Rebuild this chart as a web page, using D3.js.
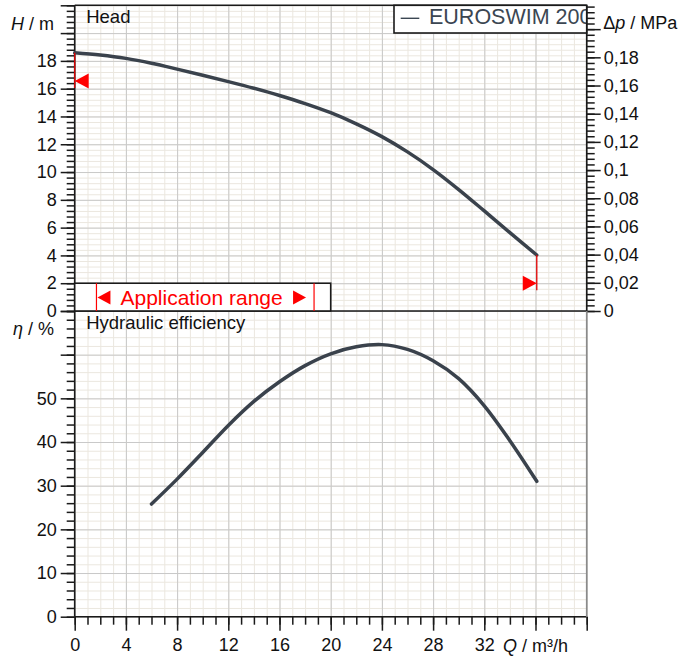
<!DOCTYPE html>
<html>
<head>
<meta charset="utf-8">
<script src="https://cdn.jsdelivr.net/npm/d3@7"></script>
<style>
body { margin: 0; background: #fff; }
svg text { font-family: "Liberation Sans", Arial, sans-serif; }
</style>
</head>
<body>
<div id="chart"></div>
<script>
// head curve: flow Q (m3/h) and head H (m)
var headQ = [0, 2, 4, 6, 8, 10, 12, 14, 16, 18, 20, 22, 24, 26, 28, 30, 32, 34, 36.1];
var headH = [18.58, 18.42, 18.18, 17.83, 17.41, 16.97, 16.51, 16.03, 15.51, 14.93, 14.27, 13.47, 12.55, 11.45, 10.18, 8.74, 7.2, 5.64, 4.03];

// hydraulic efficiency curve: flow Q (m3/h) and eta (%)
var effQ = [6, 8, 10, 12, 14, 16, 18, 20, 22, 24, 26, 28, 30, 32, 34, 36.1];
var effEta = [25.8, 31.5, 37.6, 43.8, 49.3, 53.8, 57.5, 60.2, 61.8, 62.3, 61.2, 58.6, 54.5, 48.3, 40.3, 31.0];

// tick labels
var qTicks = [0, 4, 8, 12, 16, 20, 24, 28, 32];
var hTicks = [0, 2, 4, 6, 8, 10, 12, 14, 16, 18];
var dpTicks = [0, 0.02, 0.04, 0.06, 0.08, 0.1, 0.12, 0.14, 0.16, 0.18];
var etaTicks = [0, 10, 20, 30, 40, 50];

// operating limit markers and application range
var limitQ = [0, 36.1];
var limitH = [16.55, 2];
var appRangeQ = [1.7, 18.7];
var appBoxQ = [0, 20];
var appBoxH = [0, 2];
var legendLabel = 'EUROSWIM 200';

var rhoG = 0.00986; // MPa per m
var curveColor = '#3a424c';
var fontFam = '"Liberation Sans", Arial, sans-serif';

var dim = {l: 74.7, r: 586.7, t: 5.3, mid: 311, b: 616.7};

var svg = d3.select('#chart').append('svg')
    .attr('width', 694)
    .attr('height', 656);

var x = d3.scaleLinear().domain([0, 40]).range([dim.l, dim.r]);
var yH = d3.scaleLinear().domain([0, 22]).range([dim.mid, dim.t]);
var yP = d3.scaleLinear().domain([0, 22 * rhoG]).range([dim.mid, dim.t]);
var yE = d3.scaleLinear().domain([0, 70]).range([dim.b, dim.mid]);

var qMinor = d3.range(0, 41);
var qMajor = qMinor.filter(function(d) { return d % 4 === 0; });
var hMinor = d3.range(0, 56).map(function(i) { return i * 0.4; });
var hMajor = d3.range(0, 12).map(function(i) { return i * 2; });
var eMinor = d3.range(0, 36).map(function(i) { return i * 2; });
var eMajor = d3.range(0, 8).map(function(i) { return i * 10; });
var pMinor = d3.range(0, 55).map(function(i) { return i * 0.004; });
var pMajor = d3.range(0, 11).map(function(i) { return i * 0.02; });

// grid lines drawn with axes
function grid(g, axis, color) {
    g.call(axis.tickFormat(''));
    g.select('.domain').remove();
    g.selectAll('.tick line').attr('stroke', color).attr('stroke-width', 1);
}

var gridG = svg.append('g');
[[dim.t, dim.mid], [dim.mid, dim.b]].forEach(function(p) {
    gridG.append('g').attr('transform', 'translate(0,' + p[1] + ')')
        .call(grid, d3.axisBottom(x).tickValues(qMinor).tickSize(-(p[1] - p[0])), '#ebe7df');
});
gridG.append('g').attr('transform', 'translate(' + dim.l + ',0)')
    .call(grid, d3.axisLeft(yH).tickValues(hMinor).tickSize(-(dim.r - dim.l)), '#ebe7df');
gridG.append('g').attr('transform', 'translate(' + dim.l + ',0)')
    .call(grid, d3.axisLeft(yE).tickValues(eMinor).tickSize(-(dim.r - dim.l)), '#ebe7df');
[[dim.t, dim.mid], [dim.mid, dim.b]].forEach(function(p) {
    gridG.append('g').attr('transform', 'translate(0,' + p[1] + ')')
        .call(grid, d3.axisBottom(x).tickValues(qMajor).tickSize(-(p[1] - p[0])), '#c9c9c9');
});
gridG.append('g').attr('transform', 'translate(' + dim.l + ',0)')
    .call(grid, d3.axisLeft(yH).tickValues(hMajor).tickSize(-(dim.r - dim.l)), '#c9c9c9');
gridG.append('g').attr('transform', 'translate(' + dim.l + ',0)')
    .call(grid, d3.axisLeft(yE).tickValues(eMajor).tickSize(-(dim.r - dim.l)), '#c9c9c9');

// axis with minor + major ticks
function ticks(g, minor, major, labeled, fmt, pad) {
    g.call(minor.tickFormat('').tickSize(8));
    g.select('.domain').remove();
    var m = g.append('g').call(major.tickSize(14).tickPadding(pad)
        .tickFormat(function(d) {
            var hit = labeled.some(function(v) { return Math.abs(v - d) < 1e-6; });
            return hit ? fmt(d) : '';
        }));
    m.select('.domain').remove();
    g.selectAll('.tick line').attr('stroke', '#1a1a1a').attr('stroke-width', 1.5);
    g.selectAll('text').attr('font-size', 18).attr('fill', '#111').attr('font-family', fontFam);
}

var fmt0 = function(d) { return d3.format('~f')(d); };
var fmtP = function(d) { return d3.format('.2~f')(d).replace('.', ','); };

svg.append('g').attr('transform', 'translate(' + dim.l + ',0)')
    .call(ticks, d3.axisLeft(yH).tickValues(hMinor), d3.axisLeft(yH).tickValues(hMajor), hTicks, fmt0, 4);
svg.append('g').attr('transform', 'translate(' + dim.l + ',0)')
    .call(ticks, d3.axisLeft(yE).tickValues(eMinor), d3.axisLeft(yE).tickValues(eMajor), etaTicks, fmt0, 4);
svg.append('g').attr('transform', 'translate(' + dim.r + ',0)')
    .call(ticks, d3.axisRight(yP).tickValues(pMinor), d3.axisRight(yP).tickValues(pMajor), dpTicks, fmtP, 3);
svg.append('g').attr('transform', 'translate(0,' + dim.b + ')')
    .call(ticks, d3.axisBottom(x).tickValues(qMinor), d3.axisBottom(x).tickValues(qMajor), qTicks, fmt0, 8);

// frame lines
var frame = [
    [dim.l, dim.t, dim.l, dim.b, '#1a1a1a'],
    [dim.l, dim.t, dim.r, dim.t, '#1a1a1a'],
    [dim.l, dim.mid, dim.r, dim.mid, '#1a1a1a'],
    [dim.l, dim.b, dim.r, dim.b, '#1a1a1a'],
    [dim.r, dim.t, dim.r, dim.mid, '#1a1a1a'],
    [dim.r, dim.mid, dim.r, dim.b, '#8a8a8a']
];
svg.append('g').selectAll('line').data(frame).enter().append('line')
    .attr('x1', function(d) { return d[0]; })
    .attr('y1', function(d) { return d[1]; })
    .attr('x2', function(d) { return d[2]; })
    .attr('y2', function(d) { return d[3]; })
    .attr('stroke', function(d) { return d[4]; })
    .attr('stroke-width', 1.6);

// curves
var headLine = d3.line()
    .x(function(d, i) { return x(headQ[i]); })
    .y(function(d) { return yH(d); })
    .curve(d3.curveCatmullRom.alpha(0.5));
var effLine = d3.line()
    .x(function(d, i) { return x(effQ[i]); })
    .y(function(d) { return yE(d); })
    .curve(d3.curveCatmullRom.alpha(0.5));

svg.append('path').datum(headH).attr('d', headLine)
    .attr('fill', 'none').attr('stroke', curveColor).attr('stroke-width', 3.5).attr('stroke-linecap', 'round');
svg.append('path').datum(effEta).attr('d', effLine)
    .attr('fill', 'none').attr('stroke', curveColor).attr('stroke-width', 3.5).attr('stroke-linecap', 'round');

// limit markers (red line from curve down to triangle)
var headAt = d3.scaleLinear().domain(headQ).range(headH);
limitQ.forEach(function(q, i) {
    var px = x(q), py = yH(limitH[i]);
    svg.append('line')
        .attr('x1', px).attr('x2', px)
        .attr('y1', yH(headAt(q))).attr('y2', py + 7)
        .attr('stroke', '#e00000').attr('stroke-width', 1.3);
    var dir = i === 0 ? 1 : -1;
    svg.append('path')
        .attr('d', 'M' + px + ',' + py + 'L' + (px + dir * 14) + ',' + (py - 7.5) + 'L' + (px + dir * 14) + ',' + (py + 7.5) + 'Z')
        .attr('fill', '#ff0000');
});

// application range box
var bx0 = x(appBoxQ[0]), bx1 = x(appBoxQ[1]), by0 = yH(appBoxH[1]), by1 = yH(appBoxH[0]);
svg.append('rect')
    .attr('x', bx0).attr('y', by0)
    .attr('width', bx1 - bx0).attr('height', by1 - by0)
    .attr('fill', '#fff').attr('stroke', '#1a1a1a').attr('stroke-width', 1.6);
var cy = (by0 + by1) / 2 + 0.5;
appRangeQ.forEach(function(q, i) {
    var px = x(q);
    svg.append('line').attr('x1', px).attr('x2', px).attr('y1', by0).attr('y2', by1)
        .attr('stroke', '#ff0000').attr('stroke-width', 1.2);
    var tip = i === 0 ? px + 1 : px - 8;
    var dir = i === 0 ? 1 : -1;
    svg.append('path')
        .attr('d', 'M' + tip + ',' + cy + 'L' + (tip + dir * 13) + ',' + (cy - 7) + 'L' + (tip + dir * 13) + ',' + (cy + 7) + 'Z')
        .attr('fill', '#ff0000');
});
svg.append('text').attr('x', x(appRangeQ[0]) + 24).attr('y', cy + 7.5)
    .attr('font-size', 21).attr('fill', '#ff0000')
    .text('Application range');

// panel titles
svg.append('text').attr('x', dim.l + 11.5).attr('y', 22.5)
    .attr('font-size', 18.5).attr('fill', '#111').text('Head');
svg.append('text').attr('x', dim.l + 11.5).attr('y', 329)
    .attr('font-size', 18.5).attr('fill', '#111').text('Hydraulic efficiency');

// axis titles
var tH = svg.append('text').attr('x', 54).attr('y', 30).attr('text-anchor', 'end')
    .attr('font-size', 18).attr('fill', '#111');
tH.append('tspan').attr('font-style', 'italic').text('H');
tH.append('tspan').text(' / m');

var tE = svg.append('text').attr('x', 54).attr('y', 335).attr('text-anchor', 'end')
    .attr('font-size', 18).attr('fill', '#111');
tE.append('tspan').attr('font-style', 'italic').text('η');
tE.append('tspan').text(' / %');

var tP = svg.append('text').attr('x', dim.r + 16.5).attr('y', 29)
    .attr('font-size', 18).attr('fill', '#111');
tP.append('tspan').text('Δ');
tP.append('tspan').attr('font-style', 'italic').text('p');
tP.append('tspan').text(' / MPa');

var tQ = svg.append('text').attr('x', x(36)).attr('y', 651.5).attr('text-anchor', 'middle')
    .attr('font-size', 18).attr('fill', '#111');
tQ.append('tspan').attr('font-style', 'italic').text('Q');
tQ.append('tspan').text(' / m³/h');

// legend box, text clipped at the right edge
var lgX = dim.r - 192.7, lgY = dim.t, lgW = 192.7, lgH = 27.7;
var lgColor = '#3b4652';
svg.append('clipPath').attr('id', 'lgclip').append('rect')
    .attr('x', lgX).attr('y', lgY).attr('width', lgW).attr('height', lgH);
svg.append('rect').attr('x', lgX).attr('y', lgY).attr('width', lgW).attr('height', lgH)
    .attr('fill', '#fff');
svg.append('line')
    .attr('x1', lgX + 6.7).attr('x2', lgX + 25.3)
    .attr('y1', lgY + 13).attr('y2', lgY + 13)
    .attr('stroke', lgColor).attr('stroke-width', 1.4);
svg.append('text').attr('clip-path', 'url(#lgclip)')
    .attr('x', lgX + 35).attr('y', lgY + 18.3)
    .attr('font-size', 21.5).attr('fill', lgColor)
    .text(legendLabel);
svg.append('rect').attr('x', lgX).attr('y', lgY).attr('width', lgW).attr('height', lgH)
    .attr('fill', 'none').attr('stroke', '#1a1a1a').attr('stroke-width', 1.6);
</script>
</body>
</html>
